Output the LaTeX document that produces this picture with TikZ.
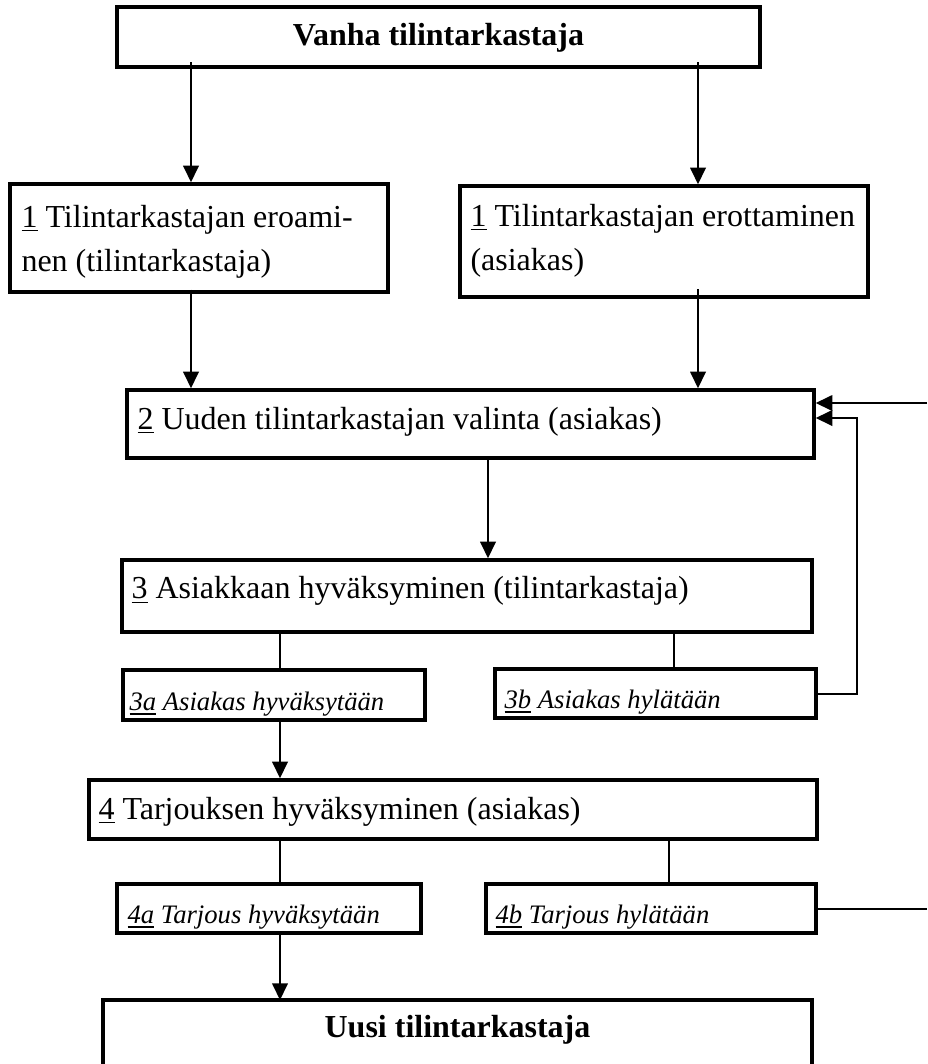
\documentclass[tikz,border=0pt]{standalone}
\usepackage{fontspec}
\setmainfont{Liberation Serif}
\usetikzlibrary{arrows.meta,fit}
\begin{document}
\begin{tikzpicture}[x=0.375pt,y=-0.375pt,
  box/.style={draw, line width=1.3pt, inner sep=0pt},
  lbl/.style={anchor=base west, inner sep=0pt, font=\fontsize{12}{16.5}\selectfont},
  ilbl/.style={anchor=base west, inner sep=0pt, font=\fontsize{10}{12}\selectfont\itshape},
  blbl/.style={anchor=base, inner sep=0pt, font=\fontsize{12}{14}\selectfont\bfseries},
  arr/.style={line width=0.75pt, -{Triangle[length=6.2pt,width=5.8pt]}},
  ln/.style={line width=0.75pt}]
\useasboundingbox (0,0) rectangle (927,1064);
% boxes
\node[box, fit={(117,7) (760,67)}] (vanha) {};
\node[box, fit={(10,184) (388,292)}] (b1a) {};
\node[box, fit={(460,186) (868,297)}] (b1b) {};
\node[box, fit={(127,390) (814,458)}] (b2) {};
\node[box, fit={(122,560) (812,632)}] (b3) {};
\node[box, fit={(123,670) (425,720)}] (b3a) {};
\node[box, fit={(495,669) (816,718)}] (b3b) {};
\node[box, fit={(89,780) (817,839)}] (b4) {};
\node[box, fit={(117,884) (421,933)}] (b4a) {};
\node[box, fit={(486,884) (816,933)}] (b4b) {};
\draw[line width=1.3pt] (103,1075) -- (103,1000) -- (812,1000) -- (812,1075);
\path (103,1000) -- (812,1000) coordinate[midway] (uusitop);
% texts
\node[blbl] (tvanha) at (438.5,45) {Vanha tilintarkastaja};
\node[lbl] (t1a) at (21,227) {\begin{tabular}[t]{@{}l@{}}\underline{1} Tilintarkastajan eroami-\\nen (tilintarkastaja)\end{tabular}};
\node[lbl] (t1b) at (470,226) {\begin{tabular}[t]{@{}l@{}}\underline{1} Tilintarkastajan erottaminen\\(asiakas)\end{tabular}};
\node[lbl] (t2) at (137,429) {\underline{2} Uuden tilintarkastajan valinta (asiakas)};
\node[lbl] (t3) at (131,598) {\underline{3} Asiakkaan hyväksyminen (tilintarkastaja)};
\node[ilbl] (t3a) at (129,710) {\underline{3a} Asiakas hyväksytään};
\node[ilbl] (t3b) at (504,708) {\underline{3b} Asiakas hylätään};
\node[lbl] (t4) at (98,819) {\underline{4} Tarjouksen hyväksyminen (asiakas)};
\node[ilbl] (t4a) at (127,923) {\underline{4a} Tarjous hyväksytään};
\node[ilbl] (t4b) at (495,923) {\underline{4b} Tarjous hylätään};
\node[blbl] (tuusi) at (457.5,1037) {Uusi tilintarkastaja};
% x positions
\coordinate (xa) at (191,0);
\coordinate (xb) at (698,0);
\coordinate (xc) at (488,0);
\coordinate (xd) at (280,0);
\coordinate (xe) at (674,0);
\coordinate (xf) at (669,0);
\coordinate (fb) at (857,418);
\coordinate (out1) at (927,911);
\coordinate (out2) at (927,403);
% connectors
\draw[arr] ([yshift=2.5pt]vanha.south -| xa) -- (b1a.north -| xa);
\draw[arr] ([yshift=2.5pt]vanha.south -| xb) -- (b1b.north -| xb);
\draw[arr] ([yshift=1.5pt]b1a.south -| xa) -- (b2.north -| xa);
\draw[arr] ([yshift=3.5pt]b1b.south -| xb) -- (b2.north -| xb);
\draw[arr] ([yshift=0.7pt]b2.south -| xc) -- (b3.north -| xc);
\draw[ln] (b3.south -| xd) -- ([yshift=-1pt]b3a.north -| xd);
\draw[ln] (b3.south -| xe) -- ([yshift=-1.5pt]b3b.north -| xe);
\draw[arr] (b3b.east) -| (fb) -- (b2.east |- fb);
\draw[arr] (b3a.south -| xd) -- (b4.north -| xd);
\draw[ln] (b4.south -| xd) -- ([yshift=-1pt]b4a.north -| xd);
\draw[ln] (b4.south -| xf) -- ([yshift=-1pt]b4b.north -| xf);
\draw[ln] (b4b.east) -- (out1 |- b4b.east);
\draw[arr] (out2) -- (b2.east |- out2);
\draw[arr] (b4a.south -| xd) -- (uusitop -| xd);
\end{tikzpicture}
\end{document}
